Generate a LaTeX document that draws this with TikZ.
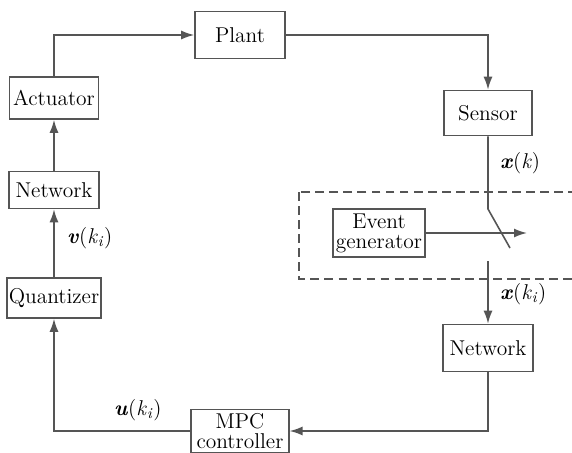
\documentclass[tikz,border=0pt]{standalone}
\usetikzlibrary{positioning, arrows.meta}
\definecolor{linegray}{HTML}{555555}
\tikzset{
	blockbox/.style={draw=linegray, line width=0.9pt, fill=white, align=center, inner sep=1pt, font=\fontsize{12.2}{11.5}\selectfont}
}
\tikzset{
	flow/.style={draw=linegray, line width=0.9pt, -{Latex[length=2.6mm, width=1.8mm]}}
}
\tikzset{
	plainline/.style={draw=linegray, line width=0.9pt}
}
\tikzset{
	sigtext/.style={font=\fontsize{12.2}{13}\selectfont}
}
\newcommand{\sigbf}[1]{\textbf{\textit{#1}}}
\newcommand{\sigki}{\textit{k}\textsubscript{\textit{i}}}

\begin{document}
\begin{tikzpicture}[x=0.02cm, y=-0.02cm]
\useasboundingbox (0,0) rectangle (572,453);

% blocks
\node[blockbox, minimum width=1.8cm, minimum height=0.94cm] (plant) at (240,35) {Plant};
\node[blockbox, minimum width=1.78cm, minimum height=0.84cm] (actuator) at (54,98) {Actuator};
\node[blockbox, minimum width=1.8cm, minimum height=0.74cm] (netL) at (54,190) {Network};
\node[blockbox, minimum width=1.8cm, minimum height=0.8cm] (quant) at (54,298) {Quantizer};
\node[blockbox, minimum width=1.92cm, minimum height=0.86cm, text width=1.88cm] (mpc) at (240,431) {MPC\\controller};
\node[blockbox, minimum width=1.76cm, minimum height=0.9cm] (sensor) at (488,113) {Sensor};
\node[blockbox, minimum width=1.8cm, minimum height=0.94cm] (netR) at (488,348) {Network};
\node[blockbox, minimum width=1.8cm, minimum height=0.96cm, text width=1.76cm] (event) at (379,233) {Event\\generator};

% event-triggered switch
\draw[draw=linegray, line width=0.9pt, dashed, dash pattern=on 5pt off 3pt] (299,192) rectangle (590,279);
\coordinate (swtop) at (488,209);
\coordinate (swend) at (510,248);
\coordinate (swout) at (488,261);
\coordinate (evtip) at (527,233);
\draw[plainline] (sensor.south) -- (swtop) -- (swend);
\draw[flow] (event.east) -- (evtip);
\draw[flow] (swout) -- (netR.north);

% loop connections
\draw[flow] (plant.east) -| (sensor.north);
\draw[flow] (netR.south) |- (mpc.east);
\draw[flow] (mpc.west) -| (quant.south);
\draw[flow] (quant.north) -- (netL.south);
\draw[flow] (netL.north) -- (actuator.south);
\draw[flow] (actuator.north) |- (plant.west);

% signal labels
\node[sigtext, anchor=west] (lxk) at (494,163) {\sigbf{x}(\textit{k})};
\node[sigtext, anchor=west] (lxki) at (494,294) {\sigbf{x}(\sigki)};
\node[sigtext, anchor=west] (lvki) at (61,238) {\sigbf{v}(\sigki)};
\node[sigtext, anchor=west] (luki) at (108,410) {\sigbf{u}(\sigki)};
\end{tikzpicture}
\end{document}
